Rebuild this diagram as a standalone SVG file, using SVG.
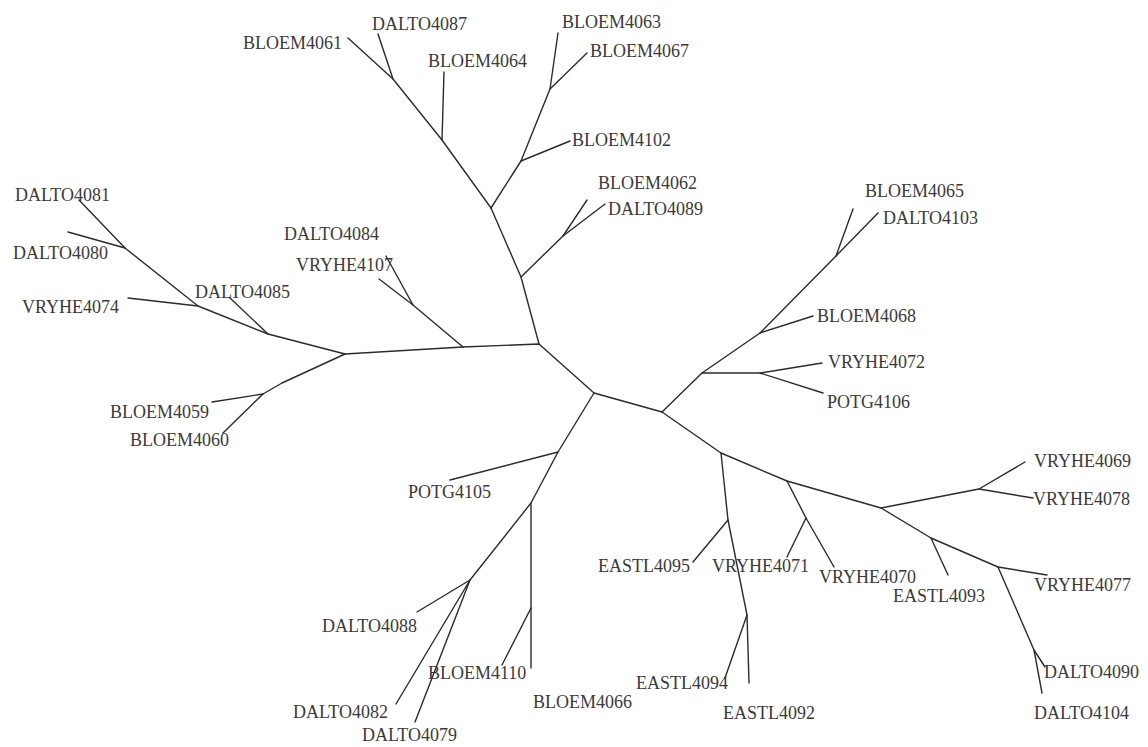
<svg xmlns="http://www.w3.org/2000/svg" width="1148" height="747" viewBox="0 0 1148 747">
<style>
.e{fill:none;stroke:#2b2b2b;stroke-width:1.4;stroke-linejoin:round;stroke-linecap:round}
.t{font-family:"Liberation Serif","Times New Roman",serif;font-size:18px;fill:#3a3a3a}
</style>
<rect width="1148" height="747" fill="#ffffff"/>
<g id="connectors">
<polyline class="e" points="345,354 463,347 539,344 594,393 662,412"/>
<polyline class="e" points="463,347 413,305 386,256"/>
<polyline class="e" points="413,305 379,279"/>
<polyline class="e" points="539,344 521,277 491,208"/>
<polyline class="e" points="521,277 563,236 587,200"/>
<polyline class="e" points="563,236 605,204"/>
<polyline class="e" points="491,208 442,140 393,79 348,38"/>
<polyline class="e" points="442,140 444,72"/>
<polyline class="e" points="393,79 378,34"/>
<polyline class="e" points="491,208 521,161 550,89 558,33"/>
<polyline class="e" points="521,161 570,141"/>
<polyline class="e" points="550,89 587,53"/>
<polyline class="e" points="345,354 268,334 198,306 125,248 79,200"/>
<polyline class="e" points="125,248 68,232"/>
<polyline class="e" points="268,334 230,298"/>
<polyline class="e" points="198,306 128,298"/>
<polyline class="e" points="345,354 282,383 263,394 212,402"/>
<polyline class="e" points="263,394 223,433"/>
<polyline class="e" points="662,412 702,373 760,333 836,256 853,209"/>
<polyline class="e" points="836,256 878,213"/>
<polyline class="e" points="760,333 813,316"/>
<polyline class="e" points="702,373 760,373 822,363"/>
<polyline class="e" points="760,373 823,393"/>
<polyline class="e" points="662,412 721,453 787,481 881,508 979,489 1025,462"/>
<polyline class="e" points="979,489 1033,498"/>
<polyline class="e" points="881,508 931,538 998,567 1047,575"/>
<polyline class="e" points="931,538 948,575"/>
<polyline class="e" points="998,567 1034,650 1042,693"/>
<polyline class="e" points="1034,650 1045,667"/>
<polyline class="e" points="721,453 728,520 747,615 749,683"/>
<polyline class="e" points="728,520 693,562"/>
<polyline class="e" points="747,615 725,678"/>
<polyline class="e" points="787,481 806,518 834,567"/>
<polyline class="e" points="806,518 787,557"/>
<polyline class="e" points="594,393 558,452 531,503 470,580 415,722"/>
<polyline class="e" points="558,452 450,480"/>
<polyline class="e" points="531,503 531,668"/>
<polyline class="e" points="531,608 502,665"/>
<polyline class="e" points="470,580 417,612"/>
<polyline class="e" points="470,580 396,704"/>
</g>
<g id="n-DALTO4087"><text class="t" x="372" y="30">DALTO4087</text></g>
<g id="n-BLOEM4061"><text class="t" x="243" y="49">BLOEM4061</text></g>
<g id="n-BLOEM4064"><text class="t" x="428" y="67">BLOEM4064</text></g>
<g id="n-BLOEM4063"><text class="t" x="562" y="28">BLOEM4063</text></g>
<g id="n-BLOEM4067"><text class="t" x="590" y="57">BLOEM4067</text></g>
<g id="n-BLOEM4102"><text class="t" x="572" y="146">BLOEM4102</text></g>
<g id="n-BLOEM4062"><text class="t" x="598" y="189">BLOEM4062</text></g>
<g id="n-DALTO4089"><text class="t" x="608" y="215">DALTO4089</text></g>
<g id="n-BLOEM4065"><text class="t" x="865" y="197">BLOEM4065</text></g>
<g id="n-DALTO4103"><text class="t" x="883" y="224">DALTO4103</text></g>
<g id="n-DALTO4081"><text class="t" x="15" y="201">DALTO4081</text></g>
<g id="n-DALTO4080"><text class="t" x="13" y="259">DALTO4080</text></g>
<g id="n-VRYHE4074"><text class="t" x="22" y="313">VRYHE4074</text></g>
<g id="n-DALTO4085"><text class="t" x="195" y="298">DALTO4085</text></g>
<g id="n-DALTO4084"><text class="t" x="284" y="240">DALTO4084</text></g>
<g id="n-VRYHE4107"><text class="t" x="296" y="271">VRYHE4107</text></g>
<g id="n-BLOEM4068"><text class="t" x="817" y="322">BLOEM4068</text></g>
<g id="n-VRYHE4072"><text class="t" x="828" y="368">VRYHE4072</text></g>
<g id="n-POTG4106"><text class="t" x="827" y="408">POTG4106</text></g>
<g id="n-BLOEM4059"><text class="t" x="110" y="418">BLOEM4059</text></g>
<g id="n-BLOEM4060"><text class="t" x="130" y="446">BLOEM4060</text></g>
<g id="n-POTG4105"><text class="t" x="408" y="498">POTG4105</text></g>
<g id="n-VRYHE4069"><text class="t" x="1034" y="467">VRYHE4069</text></g>
<g id="n-VRYHE4078"><text class="t" x="1033" y="505">VRYHE4078</text></g>
<g id="n-EASTL4095"><text class="t" x="598" y="572">EASTL4095</text></g>
<g id="n-VRYHE4071"><text class="t" x="712" y="572">VRYHE4071</text></g>
<g id="n-VRYHE4070"><text class="t" x="819" y="583">VRYHE4070</text></g>
<g id="n-EASTL4093"><text class="t" x="893" y="602">EASTL4093</text></g>
<g id="n-VRYHE4077"><text class="t" x="1034" y="591">VRYHE4077</text></g>
<g id="n-DALTO4088"><text class="t" x="322" y="632">DALTO4088</text></g>
<g id="n-BLOEM4110"><text class="t" x="428" y="679">BLOEM4110</text></g>
<g id="n-DALTO4090"><text class="t" x="1044" y="678">DALTO4090</text></g>
<g id="n-EASTL4094"><text class="t" x="636" y="689">EASTL4094</text></g>
<g id="n-DALTO4082"><text class="t" x="293" y="718">DALTO4082</text></g>
<g id="n-BLOEM4066"><text class="t" x="533" y="708">BLOEM4066</text></g>
<g id="n-EASTL4092"><text class="t" x="723" y="719">EASTL4092</text></g>
<g id="n-DALTO4104"><text class="t" x="1034" y="719">DALTO4104</text></g>
<g id="n-DALTO4079"><text class="t" x="362" y="741">DALTO4079</text></g>
</svg>
